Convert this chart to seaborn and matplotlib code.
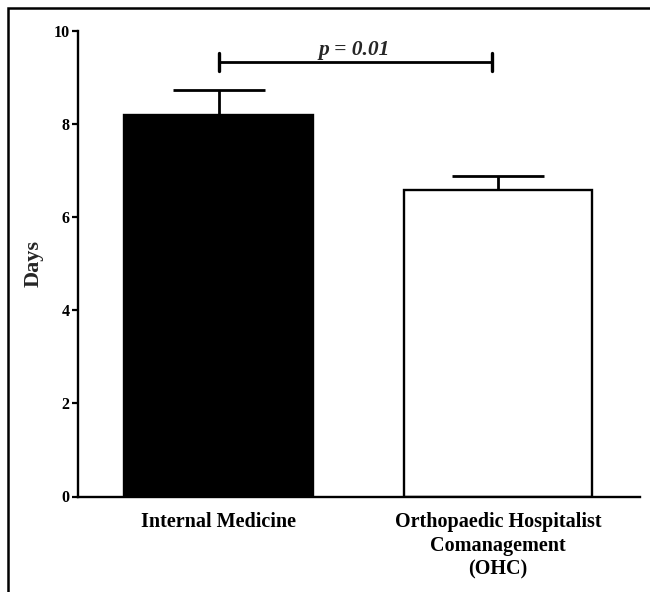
import matplotlib
matplotlib.use("Agg")
import matplotlib.pyplot as plt
import matplotlib.patches as mpatches
import seaborn as sns
import pandas as pd

# ---- data ----
categories = ["Internal Medicine", "Orthopaedic Hospitalist\nComanagement\n(OHC)"]
mean_days = [8.18, 6.57]
err_upper = [0.55, 0.30]
bar_colors = ["black", "white"]
y_ticks = [0, 2, 4, 6, 8, 10]
p_label = "p = 0.01"
bracket_level = 9.33
bracket_tick = 0.2

sns.set_theme(style="ticks")
plt.rcParams["font.family"] = ["Liberation Serif", "DejaVu Serif"]
plt.rcParams["font.weight"] = "bold"

fig = plt.figure(figsize=(6.5, 5.92), dpi=100)
ax = fig.add_axes([78 / 650, 1 - 496.5 / 592, (640 - 78) / 650, (496.5 - 30.7) / 592])

df = pd.DataFrame({"group": categories, "days": mean_days})
sns.barplot(data=df, x="group", y="days", hue="group", palette=bar_colors,
            legend=False, errorbar=None, width=0.676, edgecolor="black",
            linewidth=1.7, ax=ax, zorder=2)

xs = list(range(len(categories)))
ax.errorbar(xs, mean_days, yerr=[[0] * len(mean_days), err_upper], fmt="none",
            ecolor="black", elinewidth=2.0, capsize=33, capthick=2.0, zorder=1)

# significance bracket
ax.plot([xs[0], xs[1] - 0.02], [bracket_level, bracket_level], color="black", lw=2.0,
        solid_capstyle="butt", clip_on=False)
for xb in (xs[0], xs[1] - 0.02):
    ax.plot([xb, xb], [bracket_level - bracket_tick, bracket_level + bracket_tick],
            color="black", lw=2.4, clip_on=False)
ax.text((xs[0] + xs[1]) / 2 - 0.015, bracket_level + 0.05, p_label, ha="center", va="bottom",
        fontsize=15.5, fontweight="bold", fontstyle="italic")

ax.set_xlim(-0.503, 1.508)
ax.set_ylim(0, 10)
ax.set_yticks(y_ticks)
ax.set_yticklabels([str(t) for t in y_ticks], fontsize=11.5, fontweight="bold")
ax.set_xlabel("")
ax.set_ylabel("Days", fontsize=16, fontweight="bold")
ax.yaxis.set_label_coords(-0.062, 0.5)
for lbl in ax.get_xticklabels():
    lbl.set_fontsize(14.5)
    lbl.set_fontweight("bold")
    lbl.set_linespacing(1.22)
ax.tick_params(axis="x", length=0, pad=11.5, colors="black")
ax.tick_params(axis="y", length=4.5, width=1.6, pad=1.5, colors="black")
for s in ["top", "right"]:
    ax.spines[s].set_visible(False)
for s in ["left", "bottom"]:
    ax.spines[s].set_linewidth(1.7)
    ax.spines[s].set_color("black")
ax.set_facecolor("white")

# outer frame (image is cropped so only top/left edges are visible)
fig.add_artist(mpatches.Rectangle((7.5 / 650, -0.5), 2.0, 0.5 + 1 - 8 / 592,
                                  transform=fig.transFigure, fill=False,
                                  edgecolor="black", linewidth=1.8))

fig.savefig("out.png", dpi=100, facecolor="white")
